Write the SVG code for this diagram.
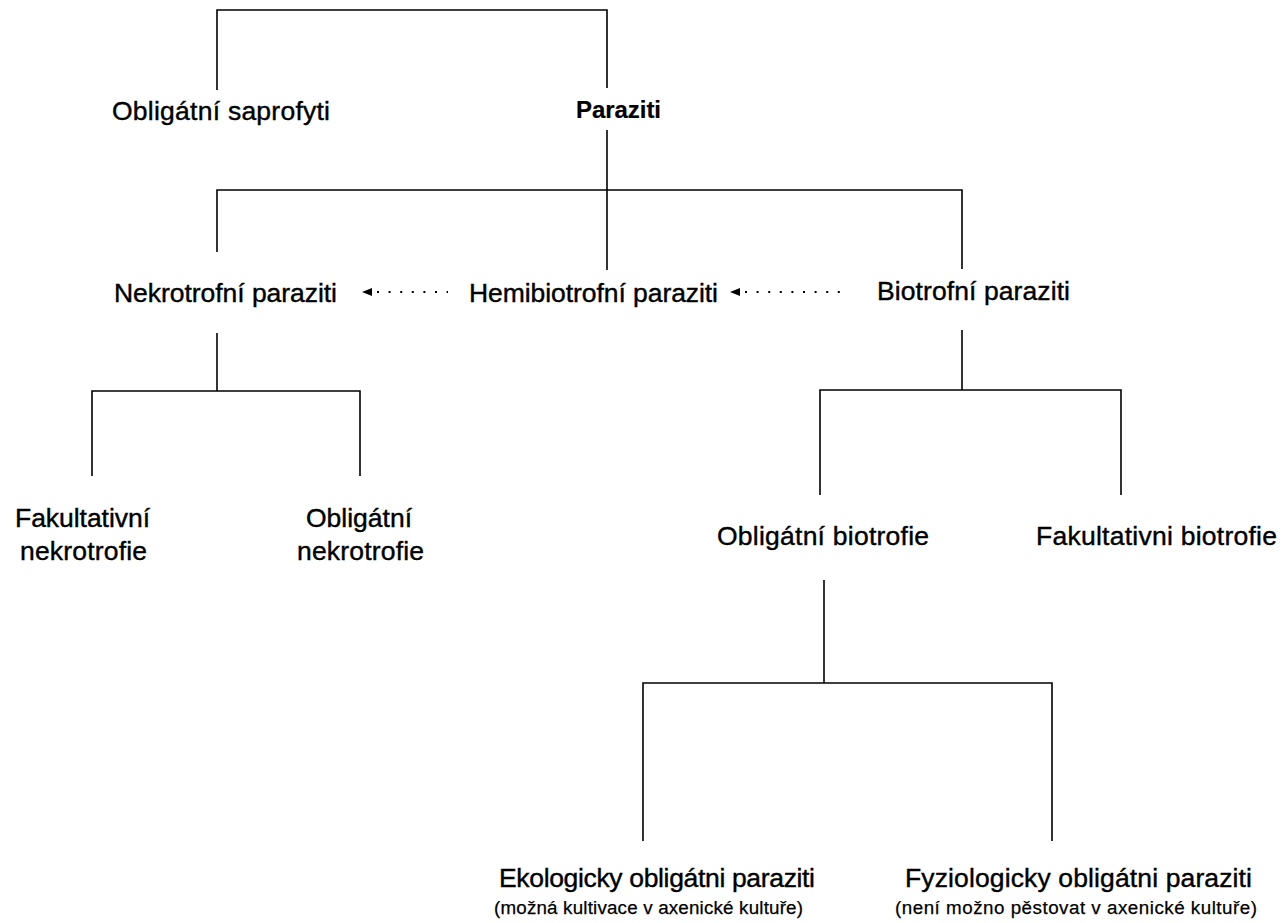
<svg xmlns="http://www.w3.org/2000/svg" width="1283" height="923" viewBox="0 0 1283 923">
<style>
.t{font-family:"Liberation Sans",Arial,sans-serif;font-size:26.5px;fill:#000;stroke:#000;stroke-width:0.4}
.b{font-weight:bold;font-size:24px;stroke-width:0.2}
.s{font-size:18.8px;stroke-width:0.25}
.ln{stroke:#000;stroke-width:1.6;fill:none}
.dot{stroke:#000;stroke-width:2;fill:none;stroke-dasharray:2 9.6}
</style>
<rect width="1283" height="923" fill="#fff"/>
<g id="connectors">
<path class="ln" d="M217,90 V10 H607 V88"/>
<path class="ln" d="M607,130 V270"/>
<path class="ln" d="M217,252 V190 H962 V269"/>
<path class="ln" d="M217,333 V391"/>
<path class="ln" d="M92,476 V391 H360 V476"/>
<path class="ln" d="M962,330 V390"/>
<path class="ln" d="M820,495 V390 H1121 V495"/>
<path class="ln" d="M824,580 V683"/>
<path class="ln" d="M643,841 V683 H1052 V841"/>
<g id="arrow1"><path d="M362,292 l10,-4 v8 z" fill="#000"/><path class="dot" d="M377,292 H448"/></g>
<g id="arrow2"><path d="M730,292 l10,-4 v8 z" fill="#000"/><path class="dot" d="M745,292 H846"/></g>
</g>
<g id="n-saprofyti"><text class="t" x="112" y="120" textLength="218">Obligátní saprofyti</text></g>
<g id="n-paraziti"><text class="t b" x="576" y="118" textLength="85">Paraziti</text></g>
<g id="n-nekrotrofni"><text class="t" x="114" y="302" textLength="223">Nekrotrofní paraziti</text></g>
<g id="n-hemibiotrofni"><text class="t" x="469" y="302" textLength="249">Hemibiotrofní paraziti</text></g>
<g id="n-biotrofni"><text class="t" x="877" y="300" textLength="193">Biotrofní paraziti</text></g>
<g id="n-fak-nekro"><text class="t" x="15" y="527" textLength="135">Fakultativní</text><text class="t" x="20" y="560" textLength="127">nekrotrofie</text></g>
<g id="n-obl-nekro"><text class="t" x="306" y="527" textLength="106">Obligátní</text><text class="t" x="297" y="560" textLength="127">nekrotrofie</text></g>
<g id="n-obl-bio"><text class="t" x="717" y="545" textLength="212">Obligátní biotrofie</text></g>
<g id="n-fak-bio"><text class="t" x="1036" y="545" textLength="241">Fakultativni biotrofie</text></g>
<g id="n-ekol"><text class="t" x="499" y="887" textLength="316">Ekologicky obligátni paraziti</text><text class="t s" x="494" y="914" textLength="309">(možná kultivace v axenické kultuře)</text></g>
<g id="n-fyz"><text class="t" x="905" y="887" textLength="347">Fyziologicky obligátni paraziti</text><text class="t s" x="895" y="914" textLength="362">(není možno pěstovat v axenické kultuře)</text></g>
</svg>
